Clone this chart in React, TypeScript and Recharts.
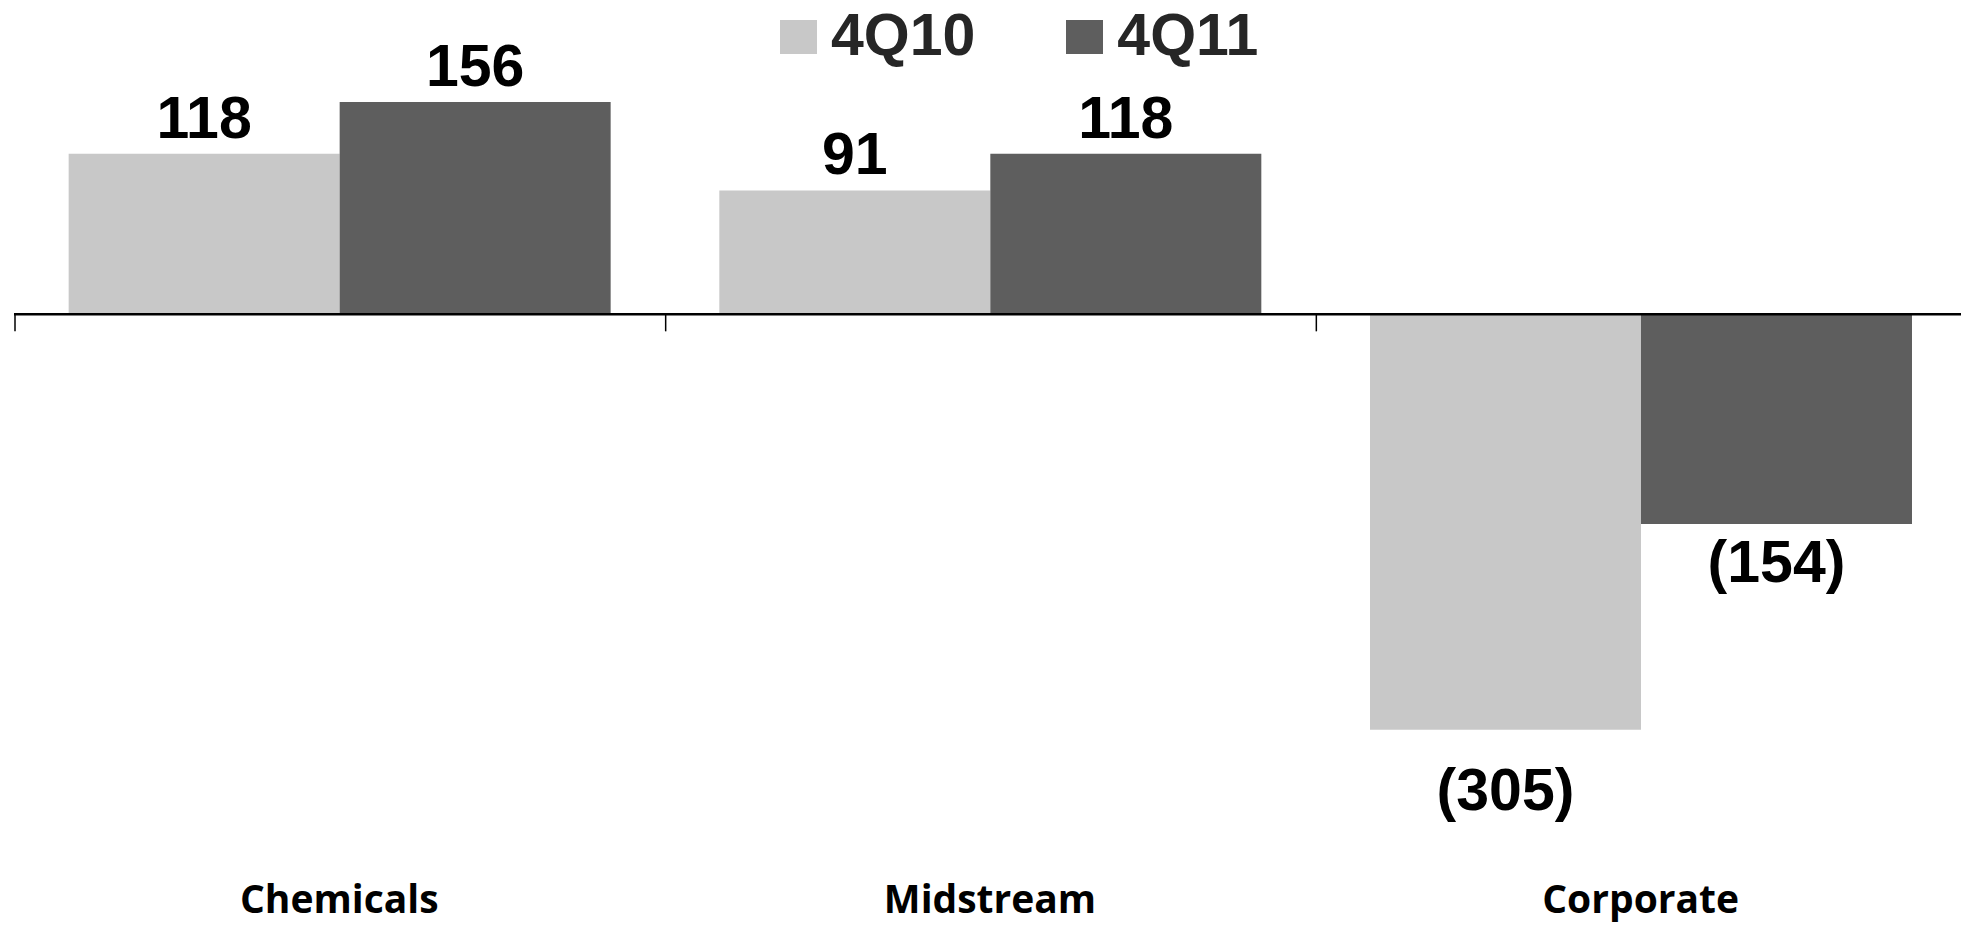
import React from "react"
import { Bar, BarChart, XAxis, YAxis, Legend, LabelList, ReferenceLine } from "recharts"

const categories = ["Chemicals", "Midstream", "Corporate"]
const q410 = [118, 91, -305]
const q411 = [156, 118, -154]
const seriesNames = ["4Q10", "4Q11"]
const yDomain = [-400, 200]

const data = categories.map((name, i) => ({ name, q410: q410[i], q411: q411[i] }))

const LIGHT = "#c8c8c8"
const DARK = "#5e5e5e"
const labelFont = '"Liberation Sans", Arial, sans-serif'

const fmt = (v: number) => (v < 0 ? `(${Math.abs(v)})` : `${v}`)

// label above positive bars, below negative ones
const makeLabel = (negOffset: number) => (props: any) => {
  const vb = props.viewBox ?? props
  const x = Number(vb.x)
  const y = Number(vb.y)
  const w = Number(vb.width)
  const h = Number(vb.height)
  const v = Number(props.value)
  const cx = x + w / 2
  const top = Math.min(y, y + h)
  const bottom = Math.max(y, y + h)
  if (v >= 0) {
    return (
      <text x={cx} y={top - 16} textAnchor="middle" fill="#000" fontSize={59} fontWeight={700} fontFamily={labelFont}>
        {fmt(v)}
      </text>
    )
  }
  return (
    <text x={cx} y={bottom + negOffset} dy="0.72em" textAnchor="middle" fill="#000" fontSize={59} fontWeight={700} fontFamily={labelFont}>
      {fmt(v)}
    </text>
  )
}

const zeroLine = (props: any) => {
  const { x1, y1, x2, y2 } = props
  const n = categories.length
  const ticks = Array.from({ length: n + 1 }, (_, i) => x1 + ((x2 - x1) * i) / n)
  return (
    <g>
      <line x1={x1} y1={y1} x2={x2} y2={y2} stroke="#000" strokeWidth={2.5} />
      {ticks.map((tx, i) => (
        <line key={i} x1={tx + 1} y1={y1} x2={tx + 1} y2={y1 + 17} stroke="#000" strokeWidth={1.5} />
      ))}
    </g>
  )
}

const renderLegend = (props: any) => {
  const { payload } = props
  return (
    <div style={{ display: "flex", alignItems: "center" }}>
      {(payload || []).map((entry: any, i: number) => (
        <div key={i} style={{ display: "flex", alignItems: "center", marginRight: i === 0 ? 91 : 0 }}>
          <div style={{ width: 37, height: 34, background: entry.color, marginRight: 14, marginTop: 3 }} />
          <span style={{ fontFamily: labelFont, fontWeight: 700, fontSize: 59, lineHeight: 1, color: "#262626" }}>
            {entry.value}
          </span>
        </div>
      ))}
    </div>
  )
}

export default function App() {
  return (
    <div style={{ position: "fixed", left: 0, top: 0, width: 1961, height: 925, overflow: "hidden", background: "#fff" }}>
      <BarChart
        width={1966}
        height={925}
        data={data}
        margin={{ top: 42, right: 0, bottom: 0, left: 14 }}
        barCategoryGap="8.4%"
        barGap={0}
      >
        <XAxis
          dataKey="name"
          height={66}
          axisLine={false}
          tickLine={false}
          tickSize={0}
          tickMargin={26}
          interval={0}
          tick={{ fill: "#000", fontSize: 39, fontWeight: 700, fontFamily: '"Open Sans", sans-serif' }}
        />
        <YAxis hide domain={yDomain} />
        <Legend
          verticalAlign="middle"
          layout="horizontal"
          content={renderLegend}
          wrapperStyle={{ top: 6, left: 780, width: "auto" }}
        />
        <Bar dataKey="q410" name={seriesNames[0]} fill={LIGHT} isAnimationActive={false}>
          <LabelList dataKey="q410" content={makeLabel(38)} />
        </Bar>
        <Bar dataKey="q411" name={seriesNames[1]} fill={DARK} isAnimationActive={false}>
          <LabelList dataKey="q411" content={makeLabel(15)} />
        </Bar>
        <ReferenceLine y={0} shape={zeroLine} />
      </BarChart>
    </div>
  )
}
